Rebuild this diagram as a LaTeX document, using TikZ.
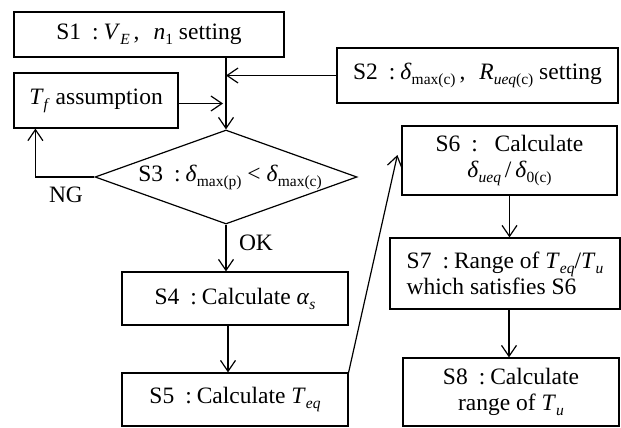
\documentclass[tikz,border=0pt]{standalone}
\usepackage{fontspec}
\setmainfont{Liberation Serif}
\usetikzlibrary{arrows.meta,shapes.geometric}
\newcommand{\sbx}[1]{\raisebox{-5pt}{\fontsize{15.5}{15.5}\selectfont #1}}
\newcommand{\iti}[1]{\textit{#1}}
\newcommand{\col}{\hspace{11pt}:\hspace{5pt}}
\begin{document}
\begin{tikzpicture}[x=1pt,y=-1pt,
  box/.style={draw,line width=1.2pt,inner sep=0pt,align=center},
  arr/.style={line width=1.2pt,-{Straight Barb[length=11pt,width=15pt,line width=1.2pt]}},
  lbl/.style={inner sep=0pt},
  every node/.append style={font=\fontsize{23.5}{26}\selectfont}]
\useasboundingbox (0,0) rectangle (621,428);
\fill[white] (0,0) rectangle (621,428);
\node[box,minimum width=270pt,minimum height=45pt] (s1) at (149,34.5)
  {S1\col\iti{V}\sbx{\iti{E}}\,,\hspace{14pt}\iti{n}\sbx{1} setting};
\node[box,minimum width=281pt,minimum height=55pt] (s2) at (477.5,75.5)
  {S2\col\iti{δ}\sbx{max(c)}\,,\hspace{14pt}\iti{R}\sbx{\iti{ueq}(c)} setting};
\node[box,minimum width=164pt,minimum height=55pt] (tf) at (96,100.5)
  {\iti{T}\sbx{\iti{f}} assumption};
\node[draw,diamond,line width=1.2pt,minimum width=262pt,minimum height=94pt,inner sep=0pt] (s3) at (226,177) {};
\node[lbl] (s3t) at ([xshift=4pt]s3.center) {S3\col\iti{δ}\sbx{max(p)} < \iti{δ}\sbx{max(c)}};
\node[box,minimum width=226pt,minimum height=53pt] (s4) at (235,298.5)
  {S4\col Calculate \iti{α}\sbx{\iti{s}}};
\node[box,minimum width=226pt,minimum height=53pt] (s5) at (235,399.5)
  {S5\col Calculate \iti{T}\sbx{\iti{eq}}};
\node[box,minimum width=215pt,minimum height=69pt] (s6) at (509.5,160.5)
  {S6\col\enspace Calculate\\\iti{δ}\sbx{\iti{ueq}}\,/\,\iti{δ}\sbx{0(c)}};
\node[box,minimum width=230pt,minimum height=71pt,align=left] (s7) at (505,273.5)
  {S7\col Range of \iti{T}\sbx{\iti{eq}}/\iti{T}\sbx{\iti{u}}\\which satisfies S6};
\node[box,minimum width=216pt,minimum height=68pt] (s8) at (511,392)
  {S8\col Calculate\\range of \iti{T}\sbx{\iti{u}}};
\node[lbl] (ng) at (66,195) {NG};
\node[lbl] (ok) at (256,243) {OK};
% connectors
\draw[arr] (s1.south -| s3.north) -- (s3.north);
\draw[arr] (s2.west) -- (s2.west -| s3.north);
\draw[arr] ([yshift=-3pt]tf.east) -- ([yshift=-3pt,xshift=-3pt]tf.east -| s3.north);
\draw[arr] (s3.west) -| ([xshift=22pt]tf.south west);
\draw[arr] (s3.south) -- (s3.south |- s4.north);
\draw[arr] ([xshift=-7pt]s4.south) -- ([xshift=-7pt]s5.north);
\draw[arr] (s5.north east) -- ([shift={(-4pt,5.5pt)}]s6.west);
\draw[arr] (s6.south) -- (s6.south |- s7.north);
\draw[arr] ([xshift=4pt]s7.south) -- ([xshift=4pt]s7.south |- s8.north);
\end{tikzpicture}
\end{document}
